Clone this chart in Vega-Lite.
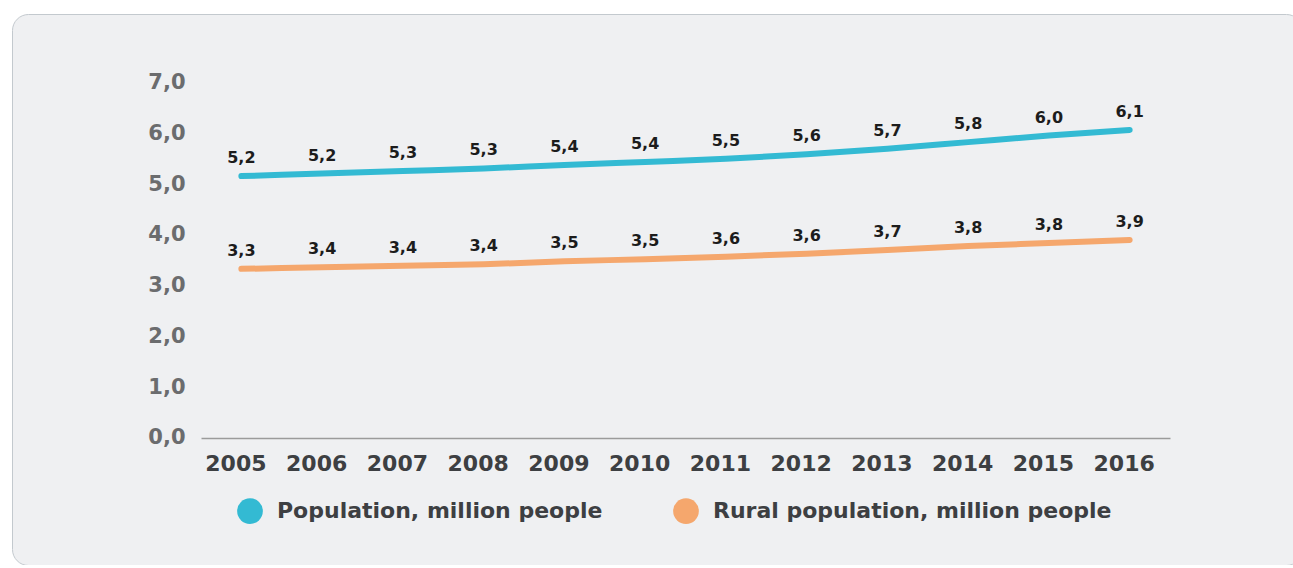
{
  "$schema": "https://vega.github.io/schema/vega-lite/v6.json",
  "width": 1290,
  "height": 551,
  "autosize": "none",
  "padding": {"left": 12, "top": 14, "right": 0, "bottom": 0},
  "background": "white",
  "config": {
    "locale": {"number": {"decimal": ",", "thousands": " ", "grouping": [3], "currency": ["", ""]}},
    "view": {"fill": "#eff0f2", "stroke": "#c3c9ce", "strokeWidth": 1, "cornerRadius": 16},
    "font": "DejaVu Sans"
  },
  "data": {
    "values": [
      {"year": "2005", "series": "Population, million people", "value": 5.16},
      {"year": "2006", "series": "Population, million people", "value": 5.21},
      {"year": "2007", "series": "Population, million people", "value": 5.26},
      {"year": "2008", "series": "Population, million people", "value": 5.31},
      {"year": "2009", "series": "Population, million people", "value": 5.38},
      {"year": "2010", "series": "Population, million people", "value": 5.44},
      {"year": "2011", "series": "Population, million people", "value": 5.5},
      {"year": "2012", "series": "Population, million people", "value": 5.59},
      {"year": "2013", "series": "Population, million people", "value": 5.7},
      {"year": "2014", "series": "Population, million people", "value": 5.83},
      {"year": "2015", "series": "Population, million people", "value": 5.96},
      {"year": "2016", "series": "Population, million people", "value": 6.07},
      {"year": "2005", "series": "Rural population, million people", "value": 3.33},
      {"year": "2006", "series": "Rural population, million people", "value": 3.36},
      {"year": "2007", "series": "Rural population, million people", "value": 3.39},
      {"year": "2008", "series": "Rural population, million people", "value": 3.42},
      {"year": "2009", "series": "Rural population, million people", "value": 3.48},
      {"year": "2010", "series": "Rural population, million people", "value": 3.52},
      {"year": "2011", "series": "Rural population, million people", "value": 3.57},
      {"year": "2012", "series": "Rural population, million people", "value": 3.63},
      {"year": "2013", "series": "Rural population, million people", "value": 3.7},
      {"year": "2014", "series": "Rural population, million people", "value": 3.78},
      {"year": "2015", "series": "Rural population, million people", "value": 3.84},
      {"year": "2016", "series": "Rural population, million people", "value": 3.9}
    ]
  },
  "encoding": {
    "x": {
      "field": "year", "type": "ordinal",
      "scale": {"type": "point", "range": [189, 1158], "padding": 0.5},
      "axis": {
        "title": null, "labelAngle": 0, "orient": "bottom", "offset": -127,
        "ticks": false, "tickSize": 0, "labelPadding": 15, "labelOffset": -6,
        "labelFont": "DejaVu Sans", "labelFontSize": 22, "labelFontWeight": "bold", "labelColor": "#3d3f42",
        "domainColor": "#9b9b9b", "domainWidth": 1.5, "grid": false
      }
    },
    "y": {
      "field": "value", "type": "quantitative",
      "scale": {"domain": [0, 7], "range": [423.7, 68.8], "nice": false, "zero": true},
      "axis": {
        "title": null, "orient": "left", "offset": -189, "values": [0, 1, 2, 3, 4, 5, 6, 7], "format": ".1f",
        "ticks": false, "domain": false, "grid": false, "labelPadding": 16,
        "labelFont": "DejaVu Sans", "labelFontSize": 21, "labelFontWeight": "bold", "labelColor": "#6b6c6e"
      }
    }
  },
  "layer": [
    {
      "mark": {"type": "line", "strokeWidth": 6, "strokeCap": "round", "interpolate": "monotone"},
      "encoding": {
        "color": {
          "field": "series", "type": "nominal",
          "scale": {"domain": ["Population, million people", "Rural population, million people"], "range": ["#33bad3", "#f5a76d"]},
          "legend": {
            "title": null, "orient": "none", "legendX": 225, "legendY": 484, "direction": "horizontal",
            "padding": 0, "symbolType": "circle", "symbolSize": 660, "symbolStrokeWidth": 0,
            "labelFont": "DejaVu Sans", "labelFontSize": 22, "labelFontWeight": "bold", "labelColor": "#3d3f42",
            "labelOffset": 14, "columnPadding": 70, "labelLimit": 600,
            "encode": {"symbols": {"update": {"fill": {"scale": "color", "field": "value"}, "strokeWidth": {"value": 0}, "opacity": {"value": 1}}}}
          }
        }
      }
    },
    {
      "mark": {"type": "text", "dy": -18, "fontSize": 16, "fontWeight": "bold", "font": "DejaVu Sans", "fill": "#1c1c1c"},
      "encoding": {
        "text": {"field": "value", "type": "quantitative", "format": ".1f"},
        "detail": {"field": "series"}
      }
    }
  ]
}
